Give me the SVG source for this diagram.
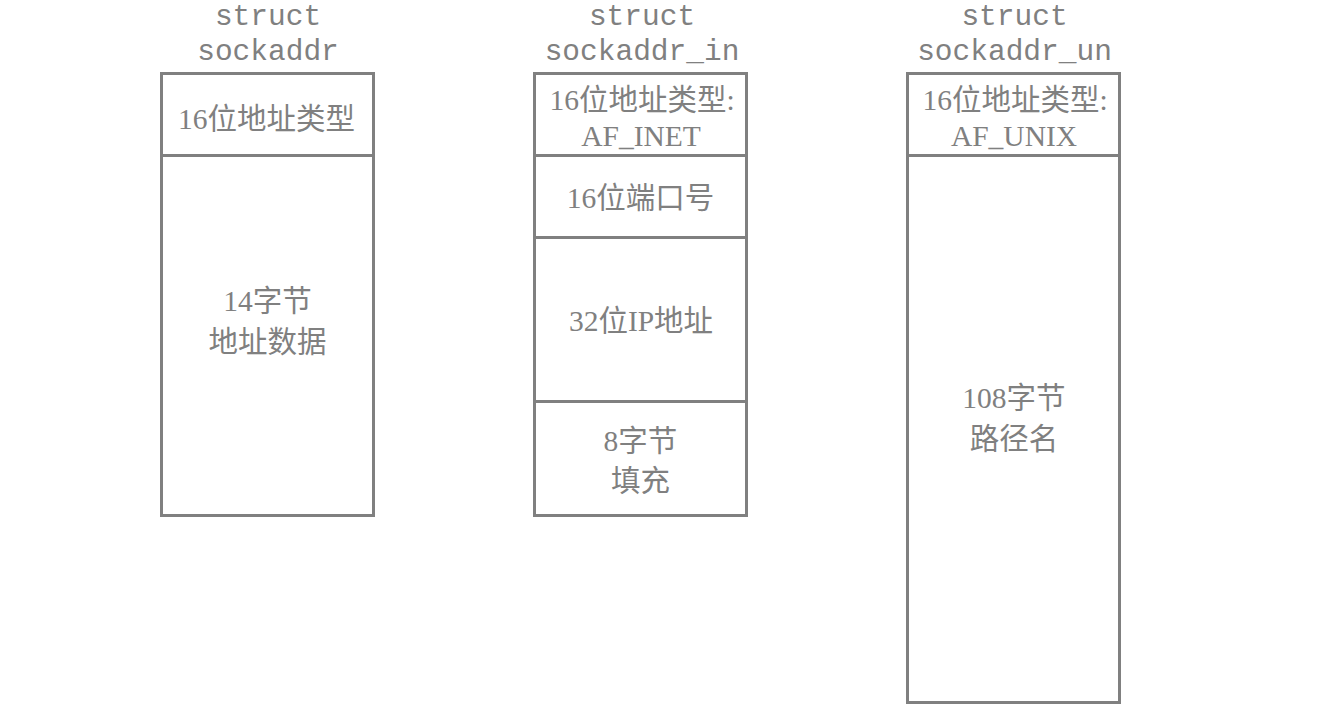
<svg xmlns="http://www.w3.org/2000/svg" width="1325" height="716" viewBox="0 0 1325 716">
<style>
.box{fill:#ffffff;stroke:#808080;stroke-width:3}
.div{stroke:#808080;stroke-width:3}
.t{font-family:"Liberation Serif","Noto Sans CJK SC",serif;font-size:29.5px;fill:#808080;text-anchor:middle}
.h{font-family:"Liberation Mono","Noto Sans CJK SC",monospace;font-size:29.5px;fill:#808080;text-anchor:middle}
</style>
<rect width="1325" height="716" fill="#ffffff"/>
<g id="sockaddr">
<text class="h" x="268" y="25">struct</text>
<text class="h" x="268" y="60">sockaddr</text>
<rect class="box" x="161.5" y="73.5" width="212" height="442"/>
<line class="div" x1="161.5" y1="155.5" x2="373.5" y2="155.5"/>
<text class="t" x="266.5" y="128.5">16位地址类型</text>
<text class="t" x="267.5" y="311">14字节</text>
<text class="t" x="267.5" y="352">地址数据</text>
</g>
<g id="sockaddr_in">
<text class="h" x="642" y="25">struct</text>
<text class="h" x="642" y="60">sockaddr_in</text>
<rect class="box" x="534.5" y="73.5" width="212" height="442"/>
<line class="div" x1="534.5" y1="155.5" x2="746.5" y2="155.5"/>
<line class="div" x1="534.5" y1="237.5" x2="746.5" y2="237.5"/>
<line class="div" x1="534.5" y1="401.5" x2="746.5" y2="401.5"/>
<text class="t" x="642" y="110">16位地址类型:</text>
<text class="t" x="641" y="146">AF_INET</text>
<text class="t" x="640.5" y="208">16位端口号</text>
<text class="t" x="641" y="331">32位IP地址</text>
<text class="t" x="640.5" y="451">8字节</text>
<text class="t" x="640.5" y="491">填充</text>
</g>
<g id="sockaddr_un">
<text class="h" x="1014.5" y="25">struct</text>
<text class="h" x="1014.5" y="60">sockaddr_un</text>
<rect class="box" x="907.5" y="73.5" width="212" height="629"/>
<line class="div" x1="907.5" y1="155.5" x2="1119.5" y2="155.5"/>
<text class="t" x="1015" y="110">16位地址类型:</text>
<text class="t" x="1014" y="146">AF_UNIX</text>
<text class="t" x="1014" y="408">108字节</text>
<text class="t" x="1014" y="449">路径名</text>
</g>
<g id="connectors"></g>
</svg>
